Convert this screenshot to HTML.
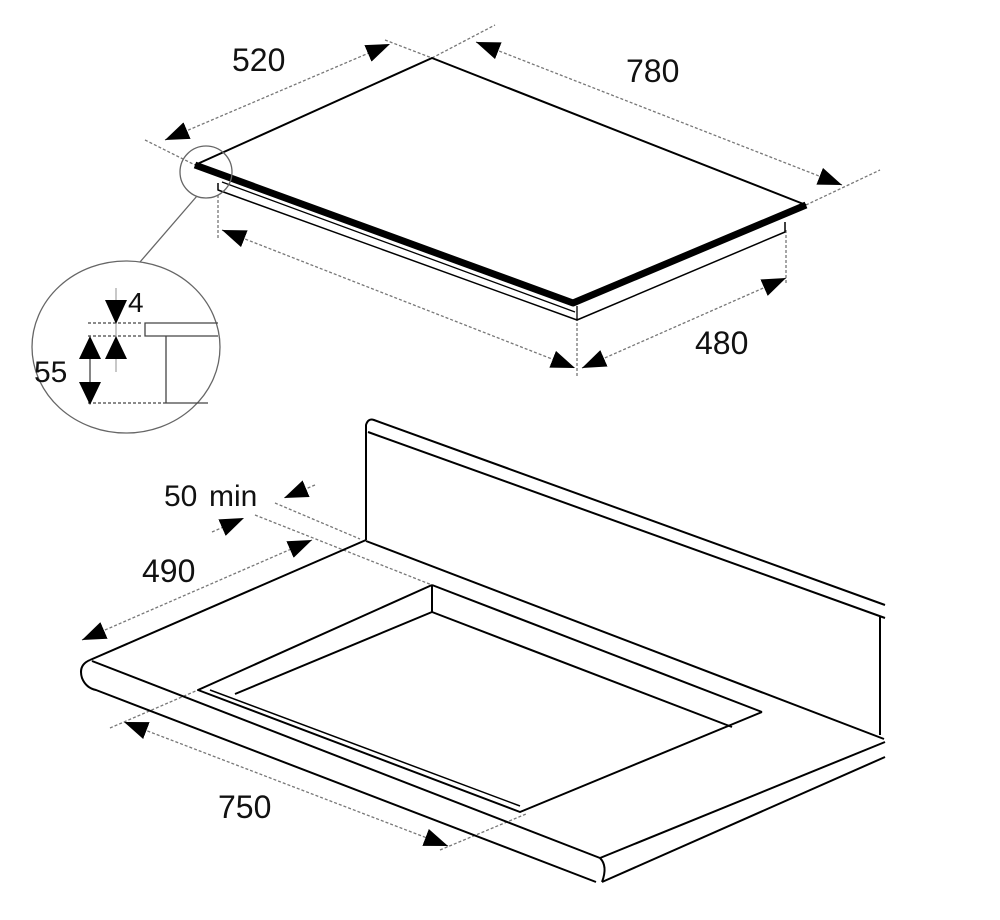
<!DOCTYPE html>
<html><head><meta charset="utf-8"><style>
html,body{margin:0;padding:0;background:#fff;}
svg{display:block}
text{font-family:"Liberation Sans",Arial,sans-serif;fill:#111}
</style></head><body>
<svg width="1000" height="920" viewBox="0 0 1000 920" xmlns="http://www.w3.org/2000/svg">
<defs>
<marker id="ah" viewBox="0 0 24 18" refX="24" refY="9" markerWidth="24" markerHeight="18" markerUnits="userSpaceOnUse" orient="auto-start-reverse">
<path d="M0,0 L24,9 L0,18 Z" fill="#000"/>
</marker>
</defs>
<g stroke="#777" stroke-width="1.3" stroke-dasharray="3,2" fill="none">
<line x1="165" y1="140" x2="390" y2="44" marker-start="url(#ah)" marker-end="url(#ah)"/>
<line x1="145" y1="140" x2="195" y2="165"/>
<line x1="385" y1="40" x2="432" y2="58"/>
<line x1="432" y1="58" x2="495" y2="25"/>
<line x1="476" y1="42" x2="842" y2="185" marker-start="url(#ah)" marker-end="url(#ah)"/>
<line x1="806" y1="205" x2="880" y2="170"/>
<line x1="218" y1="195" x2="218" y2="240"/>
<line x1="222" y1="230" x2="575" y2="368" marker-start="url(#ah)" marker-end="url(#ah)"/>
<line x1="577" y1="318" x2="577" y2="378"/>
<line x1="582" y1="368" x2="786" y2="278" marker-start="url(#ah)" marker-end="url(#ah)"/>
<line x1="786" y1="230" x2="786" y2="285"/>
<line x1="82" y1="640" x2="312" y2="540" marker-start="url(#ah)" marker-end="url(#ah)"/>
<line x1="275" y1="503" x2="360" y2="539"/>
<line x1="255" y1="515" x2="432" y2="585"/>
<line x1="212" y1="532" x2="244" y2="518" marker-end="url(#ah)"/>
<line x1="315" y1="485" x2="284" y2="498" marker-end="url(#ah)"/>
<line x1="124" y1="722" x2="448" y2="846" marker-start="url(#ah)" marker-end="url(#ah)"/>
<line x1="110" y1="728" x2="198" y2="690"/>
<line x1="440" y1="850" x2="526" y2="814"/>
</g>
<g stroke="#000" fill="none" stroke-linejoin="round">
<polyline points="195,165 432,58 806,205" stroke-width="2"/>
<polyline points="195,165 573,303 806,205" stroke-width="7"/>
<polyline points="218,183 218,190 577,320 785,232 785,222" stroke-width="1.5"/>
<line x1="222" y1="182" x2="575" y2="312" stroke-width="1.3"/>
<line x1="577" y1="306" x2="577" y2="320" stroke-width="1.3"/>
</g>
<g stroke="#666" stroke-width="1.3" fill="none">
<circle cx="206" cy="172" r="26"/>
<line x1="197" y1="196" x2="140" y2="262"/>
<ellipse cx="126" cy="347" rx="94" ry="86"/>
</g>
<g stroke="#444" stroke-width="1.3" fill="none">
<line x1="88" y1="323" x2="143" y2="323" stroke-dasharray="3,2"/>
<line x1="88" y1="336" x2="143" y2="336" stroke-dasharray="3,2"/>
<polyline points="218,323 145,323 145,336 218,336"/>
<line x1="166" y1="336" x2="166" y2="403"/>
<line x1="88" y1="403" x2="166" y2="403" stroke-dasharray="3,2"/>
<line x1="166" y1="403" x2="208" y2="403"/>
<line x1="116" y1="288" x2="116" y2="372" stroke="#aaa"/>
<line x1="90" y1="340" x2="90" y2="400"/>
</g>
<g fill="#000">
<path d="M105,300 L127,300 L116,324 Z"/>
<path d="M105,359 L127,359 L116,336 Z"/>
<path d="M79,359 L101,359 L90,336 Z"/>
<path d="M79,382 L101,382 L90,405 Z"/>
</g>
<text x="128" y="312" font-size="28">4</text>
<text x="34" y="382" font-size="30">55</text>
<g stroke="#000" stroke-width="2" fill="none" stroke-linejoin="round">
<path d="M366,540 L366,425 Q368,418 374,420 L885,605"/>
<line x1="368" y1="432" x2="885" y2="618"/>
<line x1="880" y1="616" x2="880" y2="735"/>
<line x1="366" y1="541" x2="884" y2="739"/>
<line x1="366" y1="540" x2="90" y2="660"/>
<path d="M90,660 Q78,665 82,678 Q86,688 96,690 L596,882"/>
<line x1="92" y1="661" x2="600" y2="858"/>
<path d="M600,858 Q608,866 602,882"/>
<line x1="600" y1="858" x2="885" y2="742"/>
<line x1="602" y1="882" x2="885" y2="757"/>
<polyline points="432,585 198,690 520,812 762,712"/>
<line x1="432" y1="585" x2="762" y2="712"/>
<line x1="432" y1="585" x2="432" y2="612"/>
<line x1="432" y1="612" x2="235" y2="694"/>
<line x1="432" y1="612" x2="732" y2="727"/>
<line x1="210" y1="690" x2="520" y2="806" stroke-width="1.5"/>
</g>
<text x="232" y="71" font-size="32">520</text>
<text x="626" y="82" font-size="32">780</text>
<text x="695" y="354" font-size="32">480</text>
<text x="164" y="506" font-size="30">50</text>
<text x="209" y="506" font-size="30">min</text>
<text x="142" y="582" font-size="32">490</text>
<text x="218" y="818" font-size="32">750</text>
</svg>
</body></html>
